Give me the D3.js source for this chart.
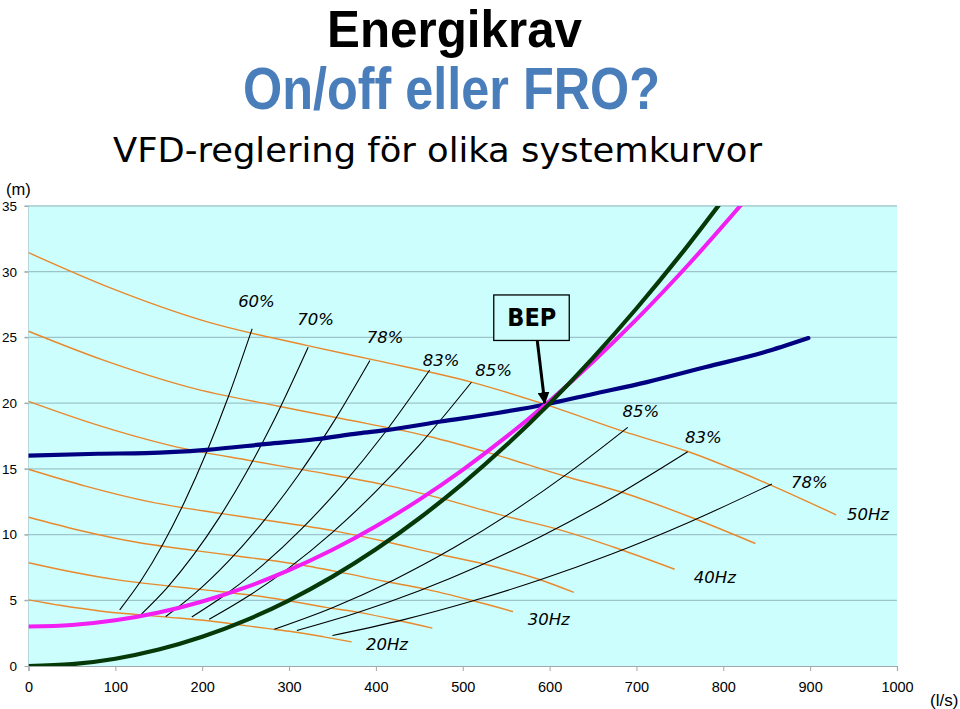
<!DOCTYPE html>
<html><head><meta charset="utf-8">
<script src="https://cdn.jsdelivr.net/npm/d3@7/dist/d3.min.js"></script>
<style>body{margin:0;background:#fff;} svg{display:block}</style>
</head><body>
<script>
// ---------- DATA ----------
const xTicks = [0,100,200,300,400,500,600,700,800,900,1000];
const yTicks = [0,5,10,15,20,25,30,35];

// Pump curves (flow l/s, head m) at different frequencies
const pumpQ50 = [0,95,205,320,400,510,595,685,760,850,930];
const pumpH50 = [31.45,28.75,26.2,24.4,23.25,21.6,19.9,17.85,16.3,13.9,11.5];
const pumpQ45 = [0,85.5,184.5,288,360,459,535.5,616.5,684,765,837];
const pumpH45 = [25.47,23.29,21.22,19.76,18.83,17.5,16.12,14.46,13.2,11.26,9.32];
const pumpQ40 = [0,76,164,256,320,408,476,548,608,680,744];
const pumpH40 = [20.13,18.4,16.77,15.62,14.88,13.82,12.74,11.42,10.43,8.9,7.36];
const pumpQ35 = [0,65.6,141.5,220.8,276,351.9,410.6,472.7,524.4,586.5,628];
const pumpH35 = [14.97,13.69,12.47,11.61,11.07,10.28,9.47,8.5,7.76,6.62,5.6];
const pumpQ30 = [0,57,123,192,240,306,357,411,456,510,558];
const pumpH30 = [11.32,10.35,9.43,8.78,8.37,7.78,7.16,6.43,5.87,5.0,4.14];
const pumpQ25 = [0,47.5,102.5,160,200,255,297.5,342.5,380,425,465];
const pumpH25 = [7.86,7.19,6.55,6.1,5.81,5.4,4.98,4.46,4.08,3.48,2.88];
const pumpQ20 = [0,38,82,128,160,204,238,274,304,340,372];
const pumpH20 = [5.03,4.6,4.19,3.9,3.72,3.46,3.18,2.86,2.61,2.22,1.84];

// Iso-efficiency curves
const effQ60 = [105,130,155,180,205,230,257.5];
const effH60 = [4.27,6.54,9.3,12.54,16.26,20.47,25.66];
const effQ70 = [130,160,190,220,250,280,322];
const effH70 = [3.95,5.99,8.45,11.33,14.63,18.35,24.26];
const effQ78 = [158,190,230,270,310,350,393];
const effH78 = [3.76,5.43,7.96,10.97,14.46,18.44,23.24];
const effQ83 = [188,225,270,315,360,410,462];
const effH83 = [3.73,5.34,7.69,10.47,13.67,17.73,22.52];
const effQ85 = [208,250,300,350,400,450,510];
const effH85 = [3.55,5.19,7.47,10.17,13.28,16.81,21.59];
const effQ85r = [283,350,420,490,560,625,690];
const effH85r = [2.8,4.44,6.53,9.01,11.86,14.85,18.16];
const effQ83r = [309,380,450,520,590,660,759];
const effH83r = [2.7,4.09,5.73,7.65,9.85,12.33,16.3];
const effQ78r = [350,430,510,590,670,760,856];
const effH78r = [2.32,3.49,4.92,6.58,8.48,10.92,13.85];

// System curves
const sysNavyQ = [0,80,135,205,275,330,380,412,475,540,595,650,712,780,846,898];
const sysNavyH = [16.0,16.15,16.2,16.45,16.9,17.25,17.7,17.95,18.6,19.25,19.9,20.7,21.6,22.75,23.85,24.95];
const sysMagQ = [0,50,100,150,200,250,300,350,400,450,500,550,600,650,700,760,822];
const sysMagH = [3.0,3.12,3.48,4.07,4.91,5.98,7.29,8.84,10.63,12.66,14.93,17.43,20.17,23.15,26.37,30.55,35.2];
const sysGrnQ = [0,50,100,150,200,250,300,350,400,450,500,550,600,650,700,750,795];
const sysGrnH = [0,0.14,0.555,1.25,2.22,3.47,5.0,6.8,8.88,11.24,13.88,16.79,19.98,23.45,27.2,31.22,35.08];

// Annotation texts and anchor points (data coordinates)
const effLabels = ["60%","70%","78%","83%","85%","85%","83%","78%"];
const effLabelQ = [262.5,330.5,410.5,475,535.6,705.2,777,899.2];
const effLabelH = [27.35,25.95,24.6,22.83,22.03,18.95,17.0,13.54];
const hzLabels = ["50Hz","40Hz","30Hz","20Hz"];
const hzLabelQ = [966.6,790.2,599,412.8];
const hzLabelH = [11.11,6.32,3.12,1.22];
const bepQ = 595, bepH = 19.9;

// ---------- CHART ----------
const W = 960, Ht = 709;
const svg = d3.select("body").append("svg").attr("width", W).attr("height", Ht);
const x = d3.scaleLinear().domain([0,1000]).range([28.5,897]);
const y = d3.scaleLinear().domain([0,35]).range([666,206]);

// Titles
svg.append("text").attr("x",454.5).attr("y",47).attr("text-anchor","middle")
  .attr("font-family","'Liberation Sans',Arial,sans-serif")
  .attr("font-weight","bold").attr("font-size",52).attr("fill","#000")
  .attr("textLength",255).attr("lengthAdjust","spacingAndGlyphs").text("Energikrav");
svg.append("text").attr("x",451.5).attr("y",109).attr("text-anchor","middle")
  .attr("font-family","'Liberation Sans',Arial,sans-serif")
  .attr("font-weight","bold").attr("font-size",60).attr("fill","#4a7ebb")
  .attr("textLength",417).attr("lengthAdjust","spacingAndGlyphs").text("On/off eller FRO?");
svg.append("text").attr("x",437.5).attr("y",162).attr("text-anchor","middle")
  .attr("font-family","'DejaVu Sans Condensed','DejaVu Sans',sans-serif")
  .attr("font-size",33).attr("fill","#000")
  .attr("textLength",649).attr("lengthAdjust","spacingAndGlyphs").text("VFD-reglering för olika systemkurvor");

// Plot background
svg.append("rect").attr("x",x(0)).attr("y",y(35)).attr("width",x(1000)-x(0)).attr("height",y(0)-y(35))
  .attr("fill","#ccfefe");

// Gridlines
svg.append("g").selectAll("line").data(yTicks.filter(d=>d>0 && d<35)).join("line")
  .attr("x1",x(0)-4).attr("x2",x(1000)).attr("y1",d=>y(d)).attr("y2",d=>y(d))
  .attr("stroke","#9cc4ca").attr("stroke-width",1.2);
svg.append("line").attr("x1",x(0)-4).attr("x2",x(1000)).attr("y1",y(35)).attr("y2",y(35))
  .attr("stroke","#b4d8dc").attr("stroke-width",2);
svg.append("line").attr("x1",x(0)).attr("x2",x(0)).attr("y1",y(35)).attr("y2",y(0))
  .attr("stroke","#b4d8dc").attr("stroke-width",1);

// Axes
const yAxis = svg.append("g").attr("transform",`translate(${x(0)},0)`)
  .call(d3.axisLeft(y).tickValues(yTicks).tickFormat(d3.format("d")).tickSize(4).tickPadding(8));
yAxis.select(".domain").remove();
yAxis.selectAll(".tick line").attr("stroke","#a0a8aa");
yAxis.selectAll(".tick text").attr("font-family","'Liberation Sans',Arial,sans-serif")
  .attr("font-size",13.5).attr("fill","#000").attr("x",-11.5);

const xAxis = svg.append("g").attr("transform",`translate(0,${y(0)})`)
  .call(d3.axisBottom(x).tickValues(xTicks).tickFormat(d3.format("d")).tickSize(5).tickPadding(11));
xAxis.select(".domain").attr("stroke","#a0a8aa").attr("stroke-width",1.2);
xAxis.selectAll(".tick line").attr("stroke","#a0a8aa");
xAxis.selectAll(".tick text").attr("font-family","'Liberation Sans',Arial,sans-serif")
  .attr("font-size",14.5).attr("fill","#000");

svg.append("text").attr("x",6).attr("y",195).attr("font-family","'Liberation Sans',Arial,sans-serif")
  .attr("font-size",16.5).text("(m)");
svg.append("text").attr("x",930).attr("y",706).attr("font-family","'Liberation Sans',Arial,sans-serif")
  .attr("font-size",17).text("(l/s)");

// Clip
svg.append("clipPath").attr("id","plotclip").append("rect")
  .attr("x",x(0)).attr("y",y(35)).attr("width",x(1000)-x(0)).attr("height",y(0)-y(35));
const plot = svg.append("g").attr("clip-path","url(#plotclip)");

const line = d3.line().x(d=>x(d[0])).y(d=>y(d[1])).curve(d3.curveMonotoneX);
const zip = (q,h)=>q.map((v,i)=>[v,h[i]]);

// Pump curves
const pumps = [[pumpQ50,pumpH50],[pumpQ45,pumpH45],[pumpQ40,pumpH40],[pumpQ35,pumpH35],
               [pumpQ30,pumpH30],[pumpQ25,pumpH25],[pumpQ20,pumpH20]];
plot.append("g").selectAll("path").data(pumps).join("path")
  .attr("d",p=>line(zip(p[0],p[1]))).attr("fill","none")
  .attr("stroke","#e8892c").attr("stroke-width",1.4);

// Efficiency curves
const effs = [[effQ60,effH60],[effQ70,effH70],[effQ78,effH78],[effQ83,effH83],[effQ85,effH85],
              [effQ85r,effH85r],[effQ83r,effH83r],[effQ78r,effH78r]];
plot.append("g").selectAll("path").data(effs).join("path")
  .attr("d",p=>line(zip(p[0],p[1]))).attr("fill","none")
  .attr("stroke","#000").attr("stroke-width",1.1);

// System curves
plot.append("path").attr("d",line(zip(sysNavyQ,sysNavyH))).attr("fill","none")
  .attr("stroke","#000080").attr("stroke-width",4.2).attr("stroke-linecap","round");
plot.append("path").attr("d",line(zip(sysMagQ,sysMagH))).attr("fill","none")
  .attr("stroke","#f21ef2").attr("stroke-width",4);
plot.append("path").attr("d",line(zip(sysGrnQ,sysGrnH))).attr("fill","none")
  .attr("stroke","#073807").attr("stroke-width",4.2);

// Labels
const lblFont = "'DejaVu Sans','Verdana',sans-serif";
svg.append("g").selectAll("text").data(effLabels).join("text")
  .attr("x",(d,i)=>x(effLabelQ[i])).attr("y",(d,i)=>y(effLabelH[i]))
  .attr("text-anchor","middle").attr("font-family",lblFont).attr("font-style","italic")
  .attr("font-size",16.5).attr("fill","#000").text(d=>d);
svg.append("g").selectAll("text").data(hzLabels).join("text")
  .attr("x",(d,i)=>x(hzLabelQ[i])).attr("y",(d,i)=>y(hzLabelH[i]))
  .attr("text-anchor","middle").attr("font-family",lblFont).attr("font-style","italic")
  .attr("font-size",16.5).attr("fill","#000").text(d=>d);

// BEP annotation
const bx = x(bepQ), by = y(bepH);
const bep = svg.append("g");
bep.append("rect").attr("x",bx-51.5).attr("y",by-109.5).attr("width",75.5).attr("height",45.5)
  .attr("fill","#ccfefe").attr("stroke","#000").attr("stroke-width",1.3);
bep.append("text").attr("x",bx-13.5).attr("y",by-78).attr("text-anchor","middle")
  .attr("font-family","'DejaVu Sans Condensed','DejaVu Sans',sans-serif").attr("font-weight","bold")
  .attr("font-size",25).text("BEP");
svg.append("defs").append("marker").attr("id","arr").attr("viewBox","0 0 10 10")
  .attr("refX",9).attr("refY",5).attr("markerWidth",4).attr("markerHeight",4).attr("orient","auto")
  .append("path").attr("d","M0,0 L10,5 L0,10 z").attr("fill","#000");
bep.append("line").attr("x1",bx-8).attr("y1",by-64).attr("x2",bx-0.5).attr("y2",by-1.5)
  .attr("stroke","#000").attr("stroke-width",3).attr("marker-end","url(#arr)");
</script>
</body></html>
